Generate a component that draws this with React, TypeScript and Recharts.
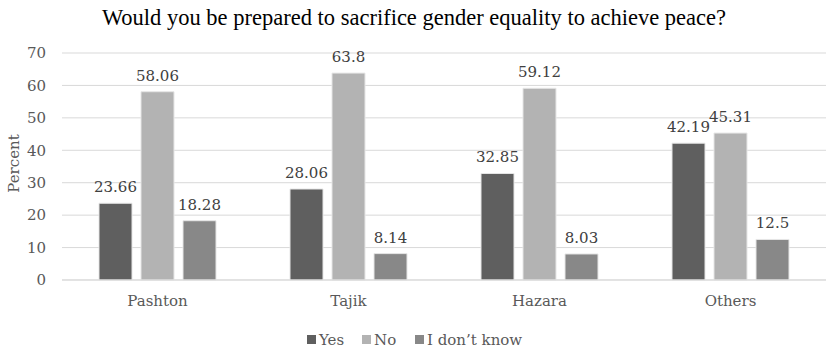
import { BarChart, Bar, XAxis, YAxis, CartesianGrid, Legend, LabelList } from "recharts";

const groups = ["Pashton", "Tajik", "Hazara", "Others"];
const yes = [23.66, 28.06, 32.85, 42.19];
const no = [58.06, 63.8, 59.12, 45.31];
const dontKnow = [18.28, 8.14, 8.03, 12.5];
const yTicks = [0, 10, 20, 30, 40, 50, 60, 70];

const series = [
  { key: "yes", name: "Yes", color: "#5f5f5f" },
  { key: "no", name: "No", color: "#b3b3b3" },
  { key: "dk", name: "I don\u2019t know", color: "#888888" },
];

const data = groups.map((g, i) => ({ group: g, yes: yes[i], no: no[i], dk: dontKnow[i] }));

const FONT = "DejaVu Serif";
const tickFont = { fontFamily: FONT, fontSize: 15, fill: "#595959" };
// legend item starts (square x) along the 829px row
const legendX = [307, 362, 415];

function LegendBox() {
  return (
    <svg width={829} height={30} style={{ display: "block" }}>
      {series.map((s, i) => (
        <g key={s.key}>
          <rect x={legendX[i]} y={11} width={9} height={9} fill={s.color} />
          <text x={legendX[i] + 12} y={21} fontFamily={FONT} fontSize={15} fill="#595959">
            {s.name}
          </text>
        </g>
      ))}
    </svg>
  );
}

function AxisTitle(props: any) {
  const vb = props.viewBox || { x: 0, y: 0, width: 0, height: 0 };
  const cy = vb.y + vb.height / 2 - 3;
  return (
    <text
      x={14}
      y={cy}
      transform={`rotate(-90, 14, ${cy})`}
      textAnchor="middle"
      dominantBaseline="central"
      fontFamily={FONT}
      fontSize={15}
      fill="#595959"
    >
      Percent
    </text>
  );
}

export default function App() {
  return (
    <div style={{ position: "absolute", left: 0, top: 0, width: 829, height: 354, background: "#fff" }}>
      <svg width={829} height={40} style={{ position: "absolute", left: 0, top: 0, zIndex: 2 }}>
        <text x={414} y={25} textAnchor="middle" fontFamily="Liberation Serif" fontSize={22.5} fill="#000">
          Would you be prepared to sacrifice gender equality to achieve peace?
        </text>
      </svg>
      <BarChart
        width={829}
        height={354}
        data={data}
        margin={{ top: 53, right: 3, left: 22, bottom: 14 }}
        barCategoryGap={37}
        barGap={9}
      >
        <CartesianGrid vertical={false} stroke="#d9d9d9" />
        <XAxis
          dataKey="group"
          axisLine={{ stroke: "#d9d9d9" }}
          tickLine={false}
          tick={tickFont}
          tickMargin={9}
          height={30}
        />
        <YAxis
          width={40}
          domain={[0, 70]}
          ticks={yTicks}
          axisLine={false}
          tickLine={false}
          tick={tickFont}
          tickMargin={10}
          label={{ content: <AxisTitle /> }}
        />
        <Legend verticalAlign="bottom" content={<LegendBox />} wrapperStyle={{ bottom: 0, left: 0, width: 829 }} />
        {series.map((s) => (
          <Bar key={s.key} dataKey={s.key} name={s.name} fill={s.color} stroke="#e6e6e6" isAnimationActive={false}>
            <LabelList
              dataKey={s.key}
              position="top"
              offset={11}
              style={{ fontFamily: FONT, fontSize: 15, fill: "#404040" }}
            />
          </Bar>
        ))}
      </BarChart>
    </div>
  );
}
